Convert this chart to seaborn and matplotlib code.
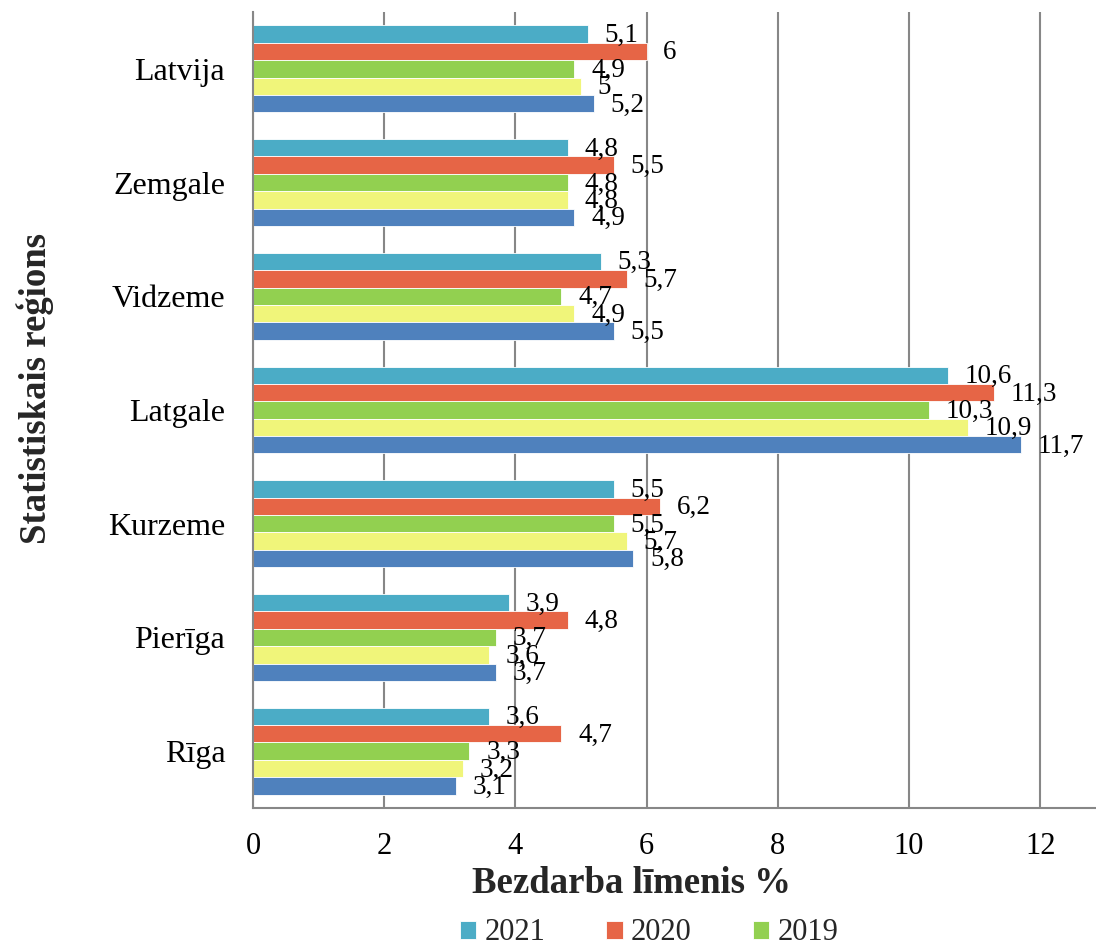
import numpy as np
import pandas as pd
import matplotlib
matplotlib.use("Agg")
import matplotlib.pyplot as plt
import seaborn as sns

regions = ["Latvija", "Zemgale", "Vidzeme", "Latgale", "Kurzeme", "Pierīga", "Rīga"]
years = ["2021", "2020", "2019", "2018", "2017"]
v2021 = [5.1, 4.8, 5.3, 10.6, 5.5, 3.9, 3.6]
v2020 = [6.0, 5.5, 5.7, 11.3, 6.2, 4.8, 4.7]
v2019 = [4.9, 4.8, 4.7, 10.3, 5.5, 3.7, 3.3]
v2018 = [5.0, 4.8, 4.9, 10.9, 5.7, 3.6, 3.2]
v2017 = [5.2, 4.9, 5.5, 11.7, 5.8, 3.7, 3.1]
colors = ["#4BACC6", "#E66546", "#92D050", "#F0F57A", "#4F81BD"]

series = dict(zip(years, [v2021, v2020, v2019, v2018, v2017]))
df = pd.DataFrame(
    [(r, y, v) for y in years for r, v in zip(regions, series[y])],
    columns=["region", "year", "value"],
)

sns.set_style("white")
plt.rcParams["font.family"] = ["Liberation Serif", "DejaVu Serif"]

fig = plt.figure(figsize=(10.96, 9.5), dpi=100)
ax = fig.add_axes([253 / 1096, 1 - 808 / 950, 1 - 253 / 1096, (808 - 12) / 950])

sns.barplot(data=df, y="region", x="value", hue="year", order=regions,
            hue_order=years, palette=colors, saturation=1, width=0.765, orient="h",
            edgecolor="white", linewidth=0.6, ax=ax)

handles, labels = ax.get_legend_handles_labels()
ax.get_legend().remove()

gray = "#878787"
for cont, y in zip(ax.containers, years):
    for bar, v in zip(cont, series[y]):
        ax.annotate(f"{v:g}".replace(".", ","),
                    xy=(bar.get_width(), bar.get_y() + bar.get_height() / 2),
                    xytext=(12, -1), textcoords="offset points",
                    ha="left", va="center", fontsize=19.5, color="black")

ax.set_xlim(0, 12.85)
ax.set_ylim(6.5, -0.5)
ax.set_xticks(range(0, 13, 2))
ax.set_yticks(range(len(regions)))
ax.set_yticks(np.arange(-0.5, 7.0, 1.0), minor=True)
ax.xaxis.grid(True, color=gray, lw=1.5)
ax.yaxis.grid(False)
ax.set_axisbelow(True)
ax.set_xlabel("")
ax.set_ylabel("")

for s in ["top", "right"]:
    ax.spines[s].set_visible(False)
for s in ["left", "bottom"]:
    ax.spines[s].set_color(gray)
    ax.spines[s].set_linewidth(1.5)

ax.tick_params(axis="y", which="major", length=0, pad=20, labelsize=23, labelcolor="black")
ax.tick_params(axis="y", which="minor", length=8, width=1.5, color=gray, direction="out")
ax.tick_params(axis="x", which="major", length=8, width=1.5, color=gray, direction="out",
               pad=9, labelsize=22, labelcolor="black")

fig.text(631 / 1096, 1 - 893 / 950, "Bezdarba līmenis %", ha="center", va="baseline",
         fontsize=26.5, fontweight="bold")
fig.text(35 / 1096, 1 - 388 / 950, "Statistiskais reģions", ha="center", va="center",
         rotation=90, fontsize=26.5, fontweight="bold")

# only the first legend row is visible in the reference (rest is cut off)
fig.legend(handles[:3], labels[:3],
           loc="center", bbox_to_anchor=(649 / 1096, 1 - 933 / 950),
           ncol=3, frameon=False, fontsize=22, borderpad=0,
           handlelength=0.53, handleheight=0.53, handletextpad=0.27,
           columnspacing=2.0)

fig.savefig("out.png", dpi=100)
